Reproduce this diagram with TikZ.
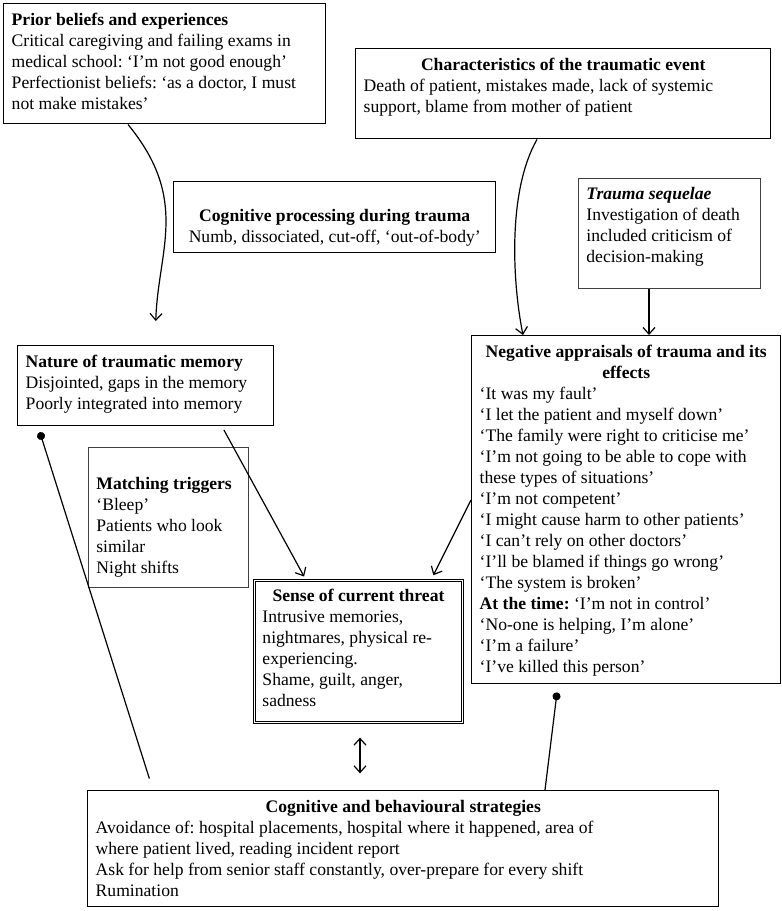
\documentclass[tikz,border=0pt]{standalone}
\usepackage{fontspec}
\setmainfont{Liberation Serif}
\usetikzlibrary{arrows.meta}
\frenchspacing

\newlength{\pxu}
\setlength{\pxu}{0.75pt}
% box contents: [inner pos]{width}{height}{text}, sizes in px
\newcommand{\cell}[4][t]{\parbox[t][\dimexpr#3\pxu-10pt\relax][#1]{\dimexpr#2\pxu-12pt\relax}{\raggedright\strut#4}}

\begin{document}
\begin{tikzpicture}[x=0.75pt, y=-0.75pt,
    every node/.style={font=\fontsize{13.2}{15.75}\selectfont},
    box/.style={draw, line width=1.1pt, anchor=north west, inner xsep=6pt, inner ysep=5pt},
    thinbox/.style={box, line width=0.6pt, draw=black!75},
    dblbox/.style={box, double, line width=0.7pt, double distance=1.3pt},
    link/.style={line width=0.9pt},
    arr/.style={link, -{Straight Barb[length=5pt, width=9pt]}},
    dblarr/.style={link, {Straight Barb[length=5pt, width=9pt]}-{Straight Barb[length=5pt, width=9pt]}},
    dot/.style={link, {Circle[length=6pt]}-}]

    \fill[white] (0,0) rectangle (782,911);
    \useasboundingbox (0,0) rectangle (782,911);

    % Boxes
    \node[box] (prior) at (3,3) {\cell{322}{120}{\textbf{Prior beliefs and experiences}\\
        Critical caregiving and failing exams in\\
        medical school: ‘I’m not good enough’\\
        Perfectionist beliefs: ‘as a doctor, I must\\
        not make mistakes’}};
    \node[box] (event) at (355,48) {\cell{415}{90}{{\centering\textbf{Characteristics of the traumatic event}\par}
        Death of patient, mistakes made, lack of systemic\\
        support, blame from mother of patient}};
    \node[box] (during) at (173,181) {\cell[b]{322}{67}{{\centering\textbf{Cognitive processing during trauma}\\
        Numb, dissociated, cut-off, ‘out-of-body’\par}}};
    \node[thinbox] (sequelae) at (578,178) {\cell{182}{110}{\textbf{\textit{Trauma sequelae}}\\
        Investigation of death\\
        included criticism of\\
        decision-making}};
    \node[box] (memory) at (17,345) {\cell{256}{80}{\textbf{Nature of traumatic memory}\\
        Disjointed, gaps in the memory\\
        Poorly integrated into memory}};
    \node[box] (appraisal) at (471,335) {\cell{309}{348}{{\centering\textbf{Negative appraisals of trauma and its\\ effects}\par}
        ‘It was my fault’\\
        ‘I let the patient and myself down’\\
        ‘The family were right to criticise me’\\
        ‘I’m not going to be able to cope with\\
        these types of situations’\\
        ‘I’m not competent’\\
        ‘I might cause harm to other patients’\\
        ‘I can’t rely on other doctors’\\
        ‘I’ll be blamed if things go wrong’\\
        ‘The system is broken’\\
        \textbf{At the time:} ‘I’m not in control’\\
        ‘No-one is helping, I’m alone’\\
        ‘I’m a failure’\\
        ‘I’ve killed this person’}};
    \node[thinbox] (triggers) at (88,447) {\cell{160}{140}{~\\
        \textbf{Matching triggers}\\
        ‘Bleep’\\
        Patients who look\\
        similar\\
        Night shifts}};
    \node[dblbox] (threat) at (254,580) {\cell{208}{142}{{\centering\textbf{Sense of current threat}\par}
        Intrusive memories,\\
        nightmares, physical re-\\
        experiencing.\\
        Shame, guilt, anger,\\
        sadness}};
    \node[box] (strategies) at (87,790) {\cell{631}{116}{{\centering\textbf{Cognitive and behavioural strategies}\par}
        Avoidance of: hospital placements, hospital where it happened, area of\\
        where patient lived, reading incident report\\
        Ask for help from senior staff constantly, over-prepare for every shift\\
        Rumination}};

    % Arrows into the memory and the appraisals
    \draw[arr, shorten >=18pt] (128,0 |- prior.south) .. controls (190,200) and (158,250) .. (155,0 |- memory.north);
    \draw[arr] (537,0 |- event.south) .. controls (508,190) and (512,280) .. (523,0 |- appraisal.north);
    \draw[arr] (649,0 |- sequelae.south) -- (649,0 |- appraisal.north);

    % Arrows into the current threat
    \draw[arr, shorten <=3pt, shorten >=3pt] (222,0 |- memory.south) -- (306,0 |- threat.north);
    \draw[arr, shorten >=4pt] (appraisal.west |- 0,500) -- (431,0 |- threat.north);

    % Links to the strategies
    \draw[dot, shorten <=4.5pt, shorten >=9pt] (38,0 |- memory.south) -- (153,0 |- strategies.north);
    \draw[dot, shorten <=6pt] (558,0 |- appraisal.south) -- (545,0 |- strategies.north);
    \draw[dblarr, shorten <=11pt, shorten >=12.5pt] (360,0 |- threat.south) -- (360,0 |- strategies.north);

\end{tikzpicture}
\end{document}
